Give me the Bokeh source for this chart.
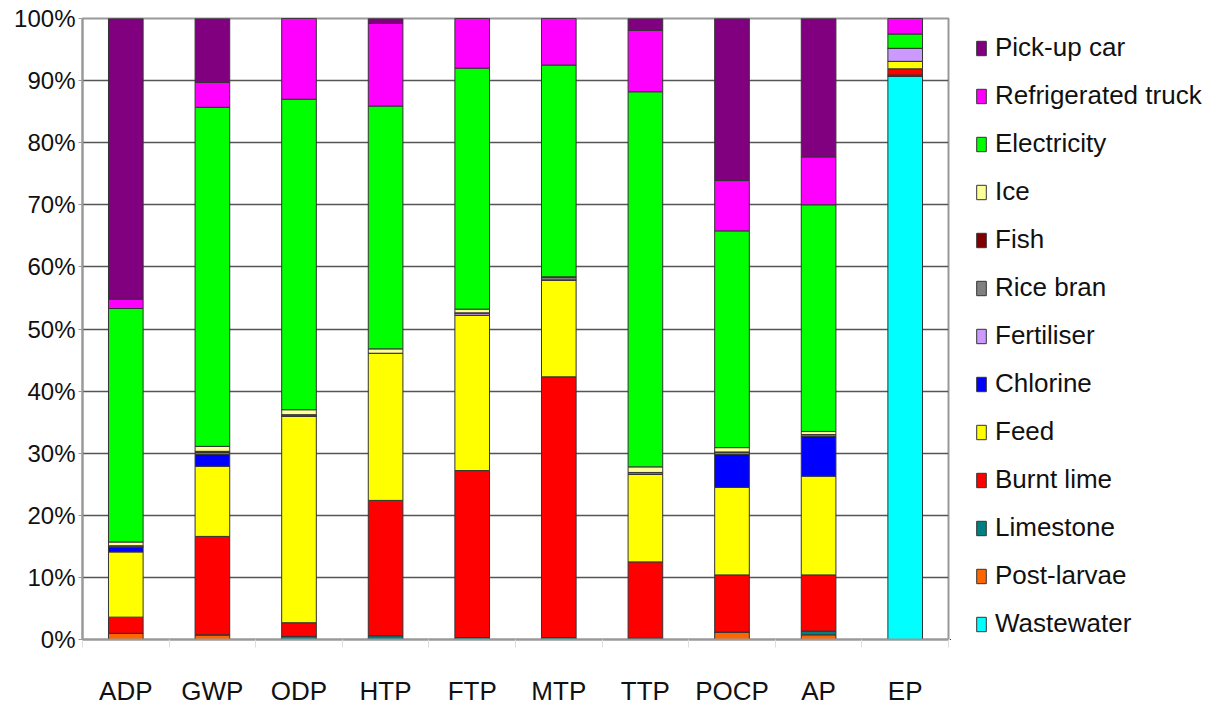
from bokeh.plotting import figure
from bokeh.layouts import row
from bokeh.models import FixedTicker, PrintfTickFormatter, Legend, LegendItem, ColumnDataSource, Range1d
from bokeh.embed import file_html
from bokeh.resources import INLINE

categories = ["ADP", "GWP", "ODP", "HTP", "FTP", "MTP", "TTP", "POCP", "AP", "EP"]

# stacked bottom -> top, values in %
wastewater = [0, 0, 0, 0, 0, 0, 0, 0, 0, 90.7]
post_larvae = [1.0, 0.75, 0, 0, 0, 0, 0, 1.2, 0.75, 0]
limestone = [0, 0, 0.5, 0.6, 0.3, 0.3, 0.2, 0, 0.6, 0.2]
burnt_lime = [2.6, 15.85, 2.2, 21.8, 26.9, 42.0, 12.3, 9.2, 9.05, 1.0]
feed = [10.5, 11.3, 33.3, 23.7, 25.0, 15.6, 14.1, 14.1, 15.9, 1.2]
chlorine = [0.8, 1.9, 0, 0, 0, 0, 0, 5.3, 6.4, 0]
fertiliser = [0, 0, 0, 0, 0.4, 0, 0, 0, 0, 2.1]
rice_bran = [0.2, 0.3, 0.2, 0, 0, 0.5, 0.3, 0.4, 0.3, 0]
fish = [0, 0.2, 0, 0, 0, 0, 0, 0, 0, 0]
ice = [0.6, 0.8, 0.8, 0.7, 0.6, 0, 0.9, 0.7, 0.5, 0]
electricity = [37.6, 54.6, 50.0, 39.1, 38.8, 34.1, 60.4, 34.9, 36.5, 2.3]
refrigerated_truck = [1.5, 4.0, 13.0, 13.3, 8.0, 7.5, 9.9, 8.1, 7.7, 2.5]
pickup_car = [45.2, 10.3, 0, 0.8, 0, 0, 1.9, 26.1, 22.3, 0]

series_names = ["Wastewater", "Post-larvae", "Limestone", "Burnt lime", "Feed", "Chlorine",
                "Fertiliser", "Rice bran", "Fish", "Ice", "Electricity",
                "Refrigerated truck", "Pick-up car"]
series_values = [wastewater, post_larvae, limestone, burnt_lime, feed, chlorine,
                 fertiliser, rice_bran, fish, ice, electricity, refrigerated_truck, pickup_car]
colors = ["#00FFFF", "#FF6600", "#008080", "#FF0000", "#FFFF00", "#0000FF",
          "#CC99FF", "#808080", "#800000", "#FFFF99", "#00FF00", "#FF00FF", "#800080"]

y_ticks = [0, 10, 20, 30, 40, 50, 60, 70, 80, 90, 100]

keys = ["s%d" % i for i in range(len(series_names))]
data = {"x": [i + 0.5 for i in range(len(categories))]}
for k, v in zip(keys, series_values):
    data[k] = v
src = ColumnDataSource(data)

FONT = "Liberation Sans"

p = figure(width=950, height=708, output_backend="svg", toolbar_location=None,
           x_range=Range1d(0, len(categories)), y_range=Range1d(0, 100),
           min_border_left=82, min_border_top=18, min_border_right=2,
           min_border_bottom=60)

renderers = p.vbar_stack(keys, x="x", width=0.4, color=colors, line_color="#333333",
                         line_width=1, source=src)

p.outline_line_color = "#999999"
p.outline_line_width = 2
p.xgrid.grid_line_color = None
p.ygrid.grid_line_color = "#555555"
p.ygrid.grid_line_width = 1.5
p.ygrid.ticker = FixedTicker(ticks=y_ticks)

# y axis
p.yaxis.ticker = FixedTicker(ticks=y_ticks)
p.yaxis.formatter = PrintfTickFormatter(format="%d%%")
p.yaxis.axis_line_color = "#999999"
p.yaxis.axis_line_width = 2
p.yaxis.major_tick_line_color = "#999999"
p.yaxis.major_tick_out = 4
p.yaxis.major_tick_in = 0
p.yaxis.minor_tick_line_color = None
p.yaxis.major_label_standoff = 3
p.yaxis.major_label_text_font = FONT
p.yaxis.major_label_text_font_size = "24px"
p.yaxis.major_label_text_color = "#111111"

# x axis: labels at centres, small ticks at category boundaries
centres = [i + 0.5 for i in range(len(categories))]
bounds = list(range(len(categories) + 1))
p.xaxis.ticker = FixedTicker(ticks=centres, minor_ticks=bounds)
p.xaxis.major_label_overrides = {c: lab for c, lab in zip(centres, categories)}
p.xaxis.axis_line_color = "#999999"
p.xaxis.axis_line_width = 2
p.xaxis.major_tick_line_color = None
p.xaxis.major_tick_out = 0
p.xaxis.major_tick_in = 0
p.xaxis.minor_tick_line_color = "#dddddd"
p.xaxis.minor_tick_out = 8
p.xaxis.minor_tick_in = 0
p.xaxis.major_label_standoff = 28
p.xaxis.major_label_text_font = FONT
p.xaxis.major_label_text_font_size = "26px"
p.xaxis.major_label_text_color = "#111111"

# legend panel as its own figure; proxy swatches lie outside its visible range
lp = figure(width=268, height=708, output_backend="svg", toolbar_location=None,
            x_axis_type=None, y_axis_type=None, min_border=0,
            x_range=Range1d(0, 1), y_range=Range1d(0, 1))
lp.outline_line_color = None
lp.grid.grid_line_color = None
swatches = [lp.vbar(x=[-10], top=[-10], bottom=[-11], width=0.1, fill_color=c,
                    line_color="#333333", line_width=1)
            for c in colors]
items = [LegendItem(label=n, renderers=[r]) for n, r in zip(series_names, swatches)][::-1]
legend = Legend(items=items, location=(25, 0), padding=0, margin=0, spacing=17,
                glyph_width=12, glyph_height=18, label_height=30, label_standoff=8,
                label_text_font=FONT, label_text_font_size="26px",
                label_text_color="#111111", border_line_color=None,
                background_fill_alpha=0)
lp.add_layout(legend)

layout = row(p, lp, spacing=0)
open("out.html", "w").write(file_html(layout, INLINE))
